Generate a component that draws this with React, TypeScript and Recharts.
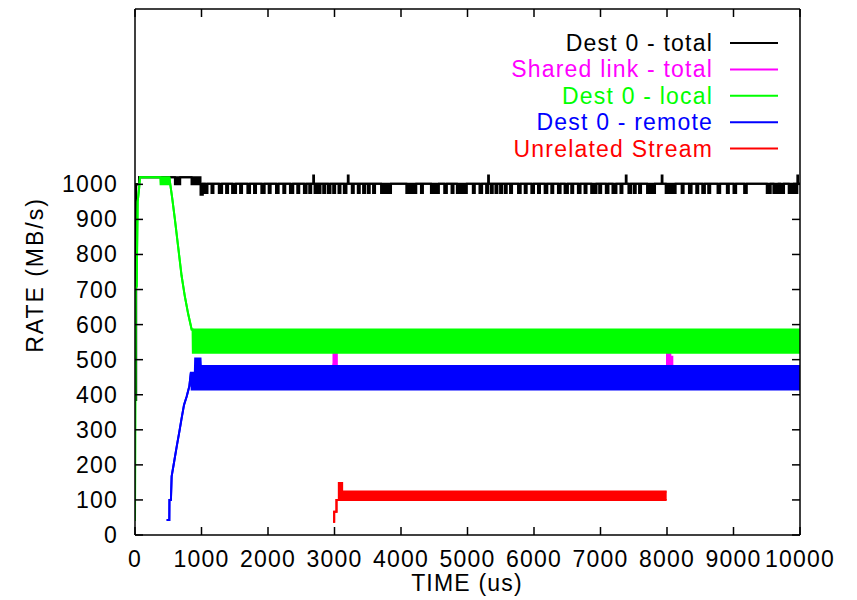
import React from 'react';
import { ComposedChart, Area, XAxis, YAxis } from 'recharts';

// ---------- axis ticks ----------
const xTicks = [0, 1000, 2000, 3000, 4000, 5000, 6000, 7000, 8000, 9000, 10000];
const yTicks = [0, 100, 200, 300, 400, 500, 600, 700, 800, 900, 1000];

// ---------- series names / colours ----------
const seriesNames = ['Dest 0 - total', 'Shared link - total', 'Dest 0 - local', 'Dest 0 - remote', 'Unrelated Stream'];
const seriesColors = ['#000000', '#ff00ff', '#00ff00', '#0000ff', '#ff0000'];

// ---------- Dest 0 - total (black) ----------
const totalStartTime = [0, 18, 60, 600, 680, 850, 985];
const totalStartLow = [385, 1000, 1020, 1000, 1020, 1000, 1002];
const totalStartHigh = [1000, 1000, 1020, 1020, 1020, 1020, 1002];
const totalBase = 1002;
const totalDipLow = 975;
const totalDipStart = [985, 1050, 1150, 1260, 1370, 1460, 1580, 1690, 1790, 1900, 2010, 2120, 2230, 2330, 2440, 2540, 2620, 2700, 2760, 2830, 2900, 2980, 3060, 3140, 3260, 3350, 3430, 3500, 3580, 3700, 4080, 4300, 4450, 4650, 4760, 4840, 5080, 5180, 5280, 5350, 5420, 5490, 5560, 5640, 5760, 5860, 5960, 6060, 6160, 6260, 6360, 6460, 6560, 6660, 6760, 6860, 6980, 7080, 7180, 7300, 7420, 7500, 7580, 7700, 7980, 8220, 8330, 8440, 8530, 8620, 8760, 8900, 9000, 9160, 9500, 9600, 9700, 9830, 9930];
const totalDipLength = [35, 40, 30, 50, 30, 60, 30, 40, 30, 50, 30, 40, 30, 50, 30, 40, 30, 30, 30, 30, 40, 30, 30, 40, 30, 30, 30, 30, 30, 150, 150, 30, 120, 40, 30, 150, 30, 40, 30, 30, 30, 30, 30, 30, 40, 30, 40, 30, 40, 30, 40, 50, 30, 40, 30, 80, 30, 40, 60, 30, 40, 30, 30, 120, 150, 30, 40, 30, 40, 30, 40, 30, 40, 40, 60, 80, 60, 80, 40];
const totalSpikeTime = [2680, 3200, 5310, 7380, 7920, 9960];
const totalSpikeHigh = 1025;

// ---------- Shared link - total (magenta) ----------
const sharedTime = [1000, 2985, 3035, 8000, 8050, 8080, 10000];
const sharedLow = [430, 486, 540, 486, 483, 430, 430];
const sharedHigh = [470, 540, 560, 540, 508, 470, 470];

// ---------- Dest 0 - local (green) ----------
const localTime = [0, 8, 25, 40, 60, 75, 380, 385, 510, 516, 560, 600, 650, 700, 750, 800, 852, 866, 870, 10000];
const localLow = [40, 700, 710, 950, 985, 1020, 1020, 1000, 1000, 1020, 960, 900, 820, 740, 680, 630, 586, 586, 520, 520];
const localHigh = [40, 700, 710, 950, 985, 1020, 1020, 1020, 1020, 1020, 960, 900, 820, 740, 680, 630, 586, 586, 586, 586];

// ---------- Dest 0 - remote (blue) ----------
const remoteTime = [476, 516, 518, 540, 551, 586, 627, 667, 702, 737, 777, 817, 840, 852, 900, 905, 985, 990, 10000];
const remoteLow = [43, 43, 100, 100, 167, 206, 252, 295, 334, 371, 395, 424, 463, 415, 415, 415, 415, 415, 415];
const remoteHigh = [43, 43, 100, 100, 167, 206, 252, 295, 334, 371, 395, 424, 463, 463, 463, 503, 503, 482, 482];

// ---------- Unrelated Stream (red) ----------
const unrelatedTime = [2978, 2995, 3030, 3065, 3115, 7995];
const unrelatedLow = [38, 66, 100, 100, 100, 100];
const unrelatedHigh = [38, 66, 100, 148, 124, 124];

type Pt = { t: number; r: [number, number] };
const toData = (t: number[], lo: number[], hi: number[]): Pt[] => t.map((x, i) => ({ t: x, r: [lo[i], hi[i]] }));

const buildTotal = (): Pt[] => {
  const pts: Pt[] = toData(totalStartTime, totalStartLow, totalStartHigh);
  const ev: Pt[] = [];
  totalDipStart.forEach((s, i) => {
    if (i === 0) return;
    ev.push({ t: s, r: [totalDipLow, totalBase] });
    ev.push({ t: s + totalDipLength[i], r: [totalBase, totalBase] });
  });
  totalSpikeTime.forEach((s) => {
    ev.push({ t: s, r: [totalBase, totalSpikeHigh] });
    ev.push({ t: s + 12, r: [totalBase, totalBase] });
  });
  ev.sort((a, b) => a.t - b.t);
  pts[pts.length - 1] = { t: totalDipStart[0], r: [970, totalBase] };
  pts.push({ t: totalDipStart[0] + totalDipLength[0], r: [totalBase, totalBase] });
  return [...pts, ...ev, { t: 10000, r: [totalBase, totalBase] }];
};

const totalData = buildTotal();
const sharedData = toData(sharedTime, sharedLow, sharedHigh);
const localData = toData(localTime, localLow, localHigh);
const remoteData = toData(remoteTime, remoteLow, remoteHigh);
const unrelatedData = toData(unrelatedTime, unrelatedLow, unrelatedHigh);

const FONT = '"Liberation Sans", Arial, Helvetica, sans-serif';
const FS = 23;
const LS = 1.2;

const LeftTick = (props: any) => {
  const { x, y, payload } = props;
  return (
    <g>
      <text x={x} y={y} textAnchor="end" dominantBaseline="central" fontSize={FS} fontFamily={FONT} letterSpacing={LS} fill="#000">
        {payload.value}
      </text>
      <line x1={x + 17} x2={x + 25} y1={y} y2={y} stroke="#000" strokeWidth={1.5} />
    </g>
  );
};
const RightTick = (props: any) => {
  const { x, y } = props;
  return <line x1={x - 8} x2={x} y1={y} y2={y} stroke="#000" strokeWidth={1.5} />;
};
const BottomTick = (props: any) => {
  const { x, y, payload } = props;
  return (
    <g>
      <text x={x} y={y + 32} textAnchor="middle" fontSize={FS} fontFamily={FONT} letterSpacing={LS} fill="#000">
        {payload.value}
      </text>
      <line x1={x} x2={x} y1={y} y2={y - 8} stroke="#000" strokeWidth={1.5} />
    </g>
  );
};
const TopTick = (props: any) => {
  const { x, y } = props;
  return <line x1={x} x2={x} y1={y} y2={y + 8} stroke="#000" strokeWidth={1.5} />;
};

const seriesData = [totalData, sharedData, localData, remoteData, unrelatedData];
const seriesTypes: any[] = ['stepAfter', 'stepAfter', 'linear', 'linear', 'stepAfter'];

export default function App() {
  const axisLine = { stroke: '#000', strokeWidth: 1.5 };
  return (
    <div style={{ position: 'absolute', left: 0, top: 0, width: 857, height: 600, background: '#fff' }}>
      <ComposedChart width={857} height={600} margin={{ top: 8, right: 56, bottom: 0, left: 0 }}>
        <XAxis
          xAxisId={0}
          dataKey="t"
          type="number"
          domain={[0, 10000]}
          allowDataOverflow
          ticks={xTicks}
          interval={0}
          height={65}
          tickSize={0}
          tickMargin={0}
          tickLine={false}
          axisLine={axisLine}
          tick={<BottomTick />}
        />
        <XAxis
          xAxisId="top"
          orientation="top"
          dataKey="t"
          type="number"
          domain={[0, 10000]}
          allowDataOverflow
          ticks={xTicks}
          interval={0}
          height={1}
          tickSize={0}
          tickMargin={0}
          tickLine={false}
          axisLine={axisLine}
          tick={<TopTick />}
        />
        <YAxis
          yAxisId={0}
          type="number"
          domain={[0, 1500]}
          allowDataOverflow
          ticks={yTicks}
          interval={0}
          width={135}
          tickSize={0}
          tickMargin={17}
          tickLine={false}
          axisLine={axisLine}
          tick={<LeftTick />}
        />
        <YAxis
          yAxisId="right"
          orientation="right"
          type="number"
          domain={[0, 1500]}
          allowDataOverflow
          ticks={yTicks}
          interval={0}
          width={1}
          tickSize={0}
          tickMargin={0}
          tickLine={false}
          axisLine={axisLine}
          tick={<RightTick />}
        />
        {seriesData.map((d, i) => (
          <Area
            key={seriesNames[i]}
            name={seriesNames[i]}
            data={d}
            dataKey="r"
            type={seriesTypes[i]}
            stroke={seriesColors[i]}
            strokeWidth={2}
            fill={seriesColors[i]}
            fillOpacity={1}
            isAnimationActive={false}
            dot={false}
            activeDot={false}
          />
        ))}
      </ComposedChart>
      <svg width={857} height={600} style={{ position: 'absolute', left: 0, top: 0, pointerEvents: 'none' }}>
        {seriesNames.map((n, i) => {
          const y = 43 + i * 26.4;
          return (
            <g key={n}>
              <text x={713} y={y} textAnchor="end" dominantBaseline="central" fontSize={FS} fontFamily={FONT} letterSpacing={LS} fill={seriesColors[i]}>
                {n}
              </text>
              <line x1={730} x2={778} y1={y} y2={y} stroke={seriesColors[i]} strokeWidth={2} />
            </g>
          );
        })}
        <text x={467} y={591} textAnchor="middle" fontSize={FS} fontFamily={FONT} letterSpacing={LS} fill="#000">
          TIME (us)
        </text>
        <text
          x={0}
          y={0}
          transform="translate(43,275) rotate(-90)"
          textAnchor="middle"
          fontSize={FS}
          fontFamily={FONT}
          letterSpacing={2}
          fill="#000"
        >
          RATE (MB/s)
        </text>
      </svg>
    </div>
  );
}
